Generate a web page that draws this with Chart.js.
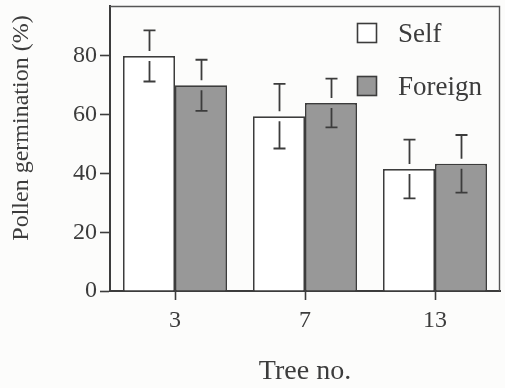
<!DOCTYPE html>
<html>
<head>
<meta charset="utf-8">
<script src="https://cdn.jsdelivr.net/npm/chart.js@4/dist/chart.umd.min.js"></script>
<style>
  html, body { margin: 0; padding: 0; background: #fcfcfb; }
  #wrap { width: 505px; height: 388px; }
</style>
</head>
<body>
<div id="wrap"><canvas id="pollenChart" width="505" height="388"></canvas></div>
<script>
const trees = ['3', '7', '13'];
const selfValues = [80, 59.5, 41.5];
const selfErrors = [8.7, 11, 10];
const foreignValues = [70, 64, 43.3];
const foreignErrors = [8.7, 8.3, 9.8];
const yTicks = [0, 20, 40, 60, 80];
const yTitle = 'Pollen germination (%)';

const serif = 'Liberation Serif';
const ink = '#3c3c3c';

// error bars with the little gap around the bar top, as in the print
const errorBars = {
    id: 'errorBars',
    afterDatasetsDraw(chart) {
        const ctx = chart.ctx;
        const y = chart.scales.y;
        ctx.save();
        ctx.strokeStyle = ink;
        ctx.lineWidth = 1.8;
        chart.data.datasets.forEach((ds, i) => {
            const meta = chart.getDatasetMeta(i);
            meta.data.forEach((bar, j) => {
                const v = ds.data[j], e = ds.errors[j];
                const top = y.getPixelForValue(v + e);
                const bot = y.getPixelForValue(v - e);
                const mid = y.getPixelForValue(v);
                const x = Math.round(bar.x) + 0.5;
                ctx.beginPath();
                ctx.moveTo(x, top); ctx.lineTo(x, mid - 5);
                ctx.moveTo(x, mid + 5); ctx.lineTo(x, bot);
                ctx.moveTo(x - 6, top); ctx.lineTo(x + 6, top);
                ctx.moveTo(x - 6, bot); ctx.lineTo(x + 6, bot);
                ctx.stroke();
            });
        });
        ctx.restore();
    }
};

// frame on top/right, y title (sits above centre in the print) and the boxed legend
const frameAndLegend = {
    id: 'frameAndLegend',
    beforeDraw(chart) {
        const ctx = chart.ctx;
        ctx.save();
        ctx.fillStyle = '#fcfcfb';
        ctx.fillRect(0, 0, chart.width, chart.height);
        ctx.restore();
    },
    afterDraw(chart) {
        const ctx = chart.ctx;
        const a = chart.chartArea;
        ctx.save();
        ctx.strokeStyle = '#555';
        ctx.lineWidth = 1.4;
        ctx.beginPath();
        ctx.moveTo(a.left, a.top + 0.5);
        ctx.lineTo(a.right - 0.5, a.top + 0.5);
        ctx.lineTo(a.right - 0.5, a.bottom);
        ctx.stroke();

        ctx.save();
        ctx.translate(22, 128);
        ctx.rotate(-Math.PI / 2);
        ctx.font = '24px "' + serif + '"';
        ctx.fillStyle = ink;
        ctx.textAlign = 'center';
        ctx.textBaseline = 'middle';
        ctx.fillText(yTitle, 0, 0);
        ctx.restore();

        ctx.font = '27px "' + serif + '"';
        ctx.textBaseline = 'middle';
        chart.data.datasets.forEach((ds, i) => {
            const by = 23 + i * 53;
            ctx.fillStyle = ds.backgroundColor;
            ctx.fillRect(357, by, 20, 20);
            ctx.strokeStyle = ink;
            ctx.lineWidth = 1.6;
            ctx.strokeRect(357.5, by + 0.5, 19, 19);
            ctx.fillStyle = ink;
            ctx.fillText(ds.label, 398, by + 12);
        });
        ctx.restore();
    }
};

new Chart(document.getElementById('pollenChart').getContext('2d'), {
    type: 'bar',
    data: {
        labels: trees,
        datasets: [
            { label: 'Self', data: selfValues, errors: selfErrors, backgroundColor: '#ffffff', borderColor: ink, borderWidth: 1.7 },
            { label: 'Foreign', data: foreignValues, errors: foreignErrors, backgroundColor: '#989898', borderColor: ink, borderWidth: 1.7 }
        ]
    },
    options: {
        responsive: false,
        animation: false,
        layout: { padding: { top: 6, right: 5, left: 0, bottom: 0 } },
        datasets: { bar: { categoryPercentage: 0.8, barPercentage: 1.0 } },
        plugins: { legend: { display: false }, tooltip: { enabled: false } },
        scales: {
            x: {
                afterFit: s => { s.height = 97; s.paddingLeft = 0; s.paddingRight = 0; },
                grid: { offset: false, drawOnChartArea: false, tickLength: 9, color: ink, tickWidth: 1.6 },
                border: { color: ink, width: 2 },
                ticks: { color: ink, padding: 6, font: { family: serif, size: 24 } },
                title: { display: true, text: 'Tree no.', color: ink, padding: { top: 0, bottom: 0 }, font: { family: serif, size: 28 } }
            },
            y: {
                min: 0,
                max: 97,
                afterFit: s => { s.width = 110; s.paddingTop = 0; s.paddingBottom = 0; },
                afterBuildTicks: s => { s.ticks = yTicks.map(v => ({ value: v })); },
                grid: { drawOnChartArea: false, tickLength: 10, color: ink, tickWidth: 1.6 },
                border: { color: ink, width: 2 },
                ticks: { color: ink, padding: 3, font: { family: serif, size: 24 } },
                title: { display: false }
            }
        }
    },
    plugins: [errorBars, frameAndLegend]
});
</script>
</body>
</html>
